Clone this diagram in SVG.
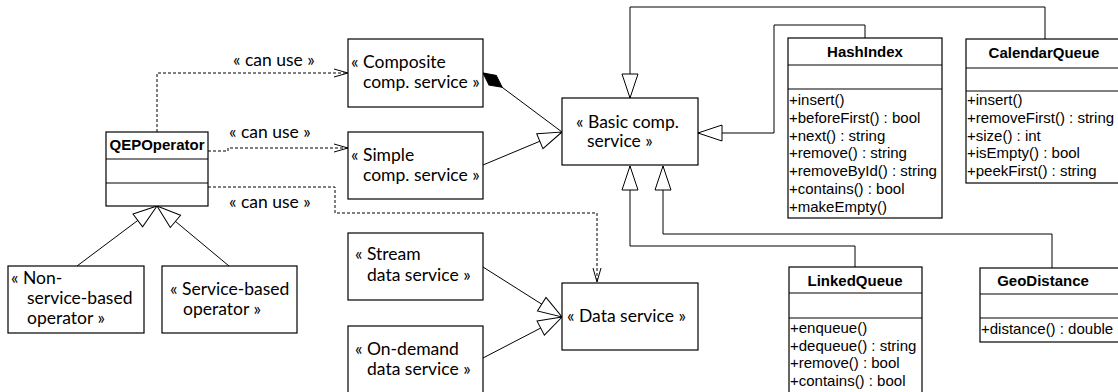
<svg xmlns="http://www.w3.org/2000/svg" width="1118" height="392" viewBox="0 0 1118 392">
<style>
.box{fill:#fff;stroke:#000;stroke-width:1.2}
.sep{stroke:#000;stroke-width:1.2}
.st{font-family:Lato,"Open Sans",sans-serif;font-size:17.5px;fill:#000}
.hd{font-family:"Liberation Sans",Arial,sans-serif;font-size:15px;font-weight:bold;fill:#000;text-anchor:middle}
.op{font-family:"Liberation Sans",Arial,sans-serif;font-size:15px;fill:#000}
.ln{fill:none;stroke:#000;stroke-width:1}
.gen{marker-end:url(#tri)}
.dep{stroke-dasharray:3,2;marker-end:url(#open)}
</style>
<defs>
<marker id="tri" markerUnits="userSpaceOnUse" markerWidth="26" markerHeight="18" viewBox="-1 -1 26 18" refX="24" refY="8" orient="auto">
<path d="M0,0 L24,8 L0,16 Z" fill="#fff" stroke="#000" stroke-width="1"/>
</marker>
<marker id="open" markerUnits="userSpaceOnUse" markerWidth="16" markerHeight="10" viewBox="-1 -1 16 10" refX="14" refY="4" orient="auto">
<path d="M0,0 L14,4 L0,8" fill="none" stroke="#000" stroke-width="1" stroke-dasharray="none"/>
</marker>
<marker id="dia" markerUnits="userSpaceOnUse" markerWidth="26" markerHeight="14" viewBox="-1 -1 26 14" refX="24" refY="6" orient="auto">
<path d="M0,6 L12,0 L24,6 L12,12 Z" fill="#000" stroke="#000" stroke-width="1"/>
</marker>
</defs>
<rect width="1118" height="392" fill="#fff"/>

<g id="connectors">
<path class="ln gen" d="M1045,39 V7 H630 V98"/>
<path class="ln gen" d="M865,38 V25 H774 V133 H698"/>
<path class="ln gen" d="M855,267 V246 H630 V166"/>
<path class="ln gen" d="M1052,268 V234 H663 V166"/>
<path class="ln gen" d="M483,165 L562,132"/>
<path class="ln" d="M562,132 L483,73" marker-end="url(#dia)"/>
<path class="ln gen" d="M77,266 L157,206"/>
<path class="ln gen" d="M229,266 L157,206"/>
<path class="ln gen" d="M483,267 L562,317"/>
<path class="ln gen" d="M483,358 L562,317"/>
<path class="ln dep" d="M157,132 V73 H348"/>
<path class="ln dep" d="M208,151 H228 V148 H348"/>
<path class="ln dep" d="M208,187 H335 V213 H597 V282"/>
<text class="st" x="233" y="66">« can use »</text>
<text class="st" x="229" y="138">« can use »</text>
<text class="st" x="229" y="208">« can use »</text>
</g>

<g id="QEPOperator">
<rect class="box" x="106" y="132" width="102" height="74"/>
<line class="sep" x1="106" y1="159" x2="208" y2="159"/>
<line class="sep" x1="106" y1="183" x2="208" y2="183"/>
<text class="hd" x="157" y="150">QEPOperator</text>
</g>

<g id="NonServiceBasedOperator">
<rect class="box" x="8" y="266" width="136" height="67"/>
<text class="st" x="11" y="284">« Non-</text>
<text class="st" x="27" y="304">service-based</text>
<text class="st" x="27" y="324">operator »</text>
</g>

<g id="ServiceBasedOperator">
<rect class="box" x="162" y="266" width="135" height="67"/>
<text class="st" x="170" y="295">« Service-based</text>
<text class="st" x="183" y="315">operator »</text>
</g>

<g id="CompositeCompService">
<rect class="box" x="348" y="39" width="135" height="68"/>
<text class="st" x="351" y="68">« Composite</text>
<text class="st" x="363" y="88">comp. service »</text>
</g>

<g id="SimpleCompService">
<rect class="box" x="348" y="132" width="135" height="67"/>
<text class="st" x="351" y="161">« Simple</text>
<text class="st" x="363" y="181">comp. service »</text>
</g>

<g id="BasicCompService">
<rect class="box" x="562" y="98" width="136" height="67"/>
<text class="st" x="576" y="128">« Basic comp.</text>
<text class="st" x="587" y="147">service »</text>
</g>

<g id="StreamDataService">
<rect class="box" x="348" y="233" width="135" height="67"/>
<text class="st" x="355" y="260">« Stream</text>
<text class="st" x="367" y="281">data service »</text>
</g>

<g id="OnDemandDataService">
<rect class="box" x="348" y="326" width="135" height="70"/>
<text class="st" x="355" y="355">« On-demand</text>
<text class="st" x="367" y="375">data service »</text>
</g>

<g id="DataService">
<rect class="box" x="562" y="283" width="136" height="67"/>
<text class="st" x="567" y="322">« Data service »</text>
</g>

<g id="HashIndex">
<rect class="box" x="788" y="38" width="154" height="180"/>
<line class="sep" x1="788" y1="65" x2="942" y2="65"/>
<line class="sep" x1="788" y1="89" x2="942" y2="89"/>
<text class="hd" x="865" y="57">HashIndex</text>
<text class="op" x="789" y="105">+insert()</text>
<text class="op" x="789" y="123">+beforeFirst() : bool</text>
<text class="op" x="789" y="141">+next() : string</text>
<text class="op" x="789" y="158">+remove() : string</text>
<text class="op" x="789" y="176">+removeById() : string</text>
<text class="op" x="789" y="194">+contains() : bool</text>
<text class="op" x="789" y="212">+makeEmpty()</text>
</g>

<g id="CalendarQueue">
<rect class="box" x="966" y="39" width="160" height="144"/>
<line class="sep" x1="966" y1="68" x2="1126" y2="68"/>
<line class="sep" x1="966" y1="91" x2="1126" y2="91"/>
<text class="hd" x="1044" y="58">CalendarQueue</text>
<text class="op" x="967" y="105">+insert()</text>
<text class="op" x="967" y="123">+removeFirst() : string</text>
<text class="op" x="967" y="141">+size() : int</text>
<text class="op" x="967" y="158">+isEmpty() : bool</text>
<text class="op" x="967" y="176">+peekFirst() : string</text>
</g>

<g id="LinkedQueue">
<rect class="box" x="789" y="267" width="133" height="130"/>
<line class="sep" x1="789" y1="293" x2="922" y2="293"/>
<line class="sep" x1="789" y1="318" x2="922" y2="318"/>
<text class="hd" x="855" y="286">LinkedQueue</text>
<text class="op" x="790" y="333">+enqueue()</text>
<text class="op" x="790" y="351">+dequeue() : string</text>
<text class="op" x="790" y="368">+remove() : bool</text>
<text class="op" x="790" y="386">+contains() : bool</text>
</g>

<g id="GeoDistance">
<rect class="box" x="980" y="268" width="150" height="74"/>
<line class="sep" x1="980" y1="294" x2="1130" y2="294"/>
<line class="sep" x1="980" y1="318" x2="1130" y2="318"/>
<text class="hd" x="1043" y="286">GeoDistance</text>
<text class="op" x="981" y="334">+distance() : double</text>
</g>
</svg>
